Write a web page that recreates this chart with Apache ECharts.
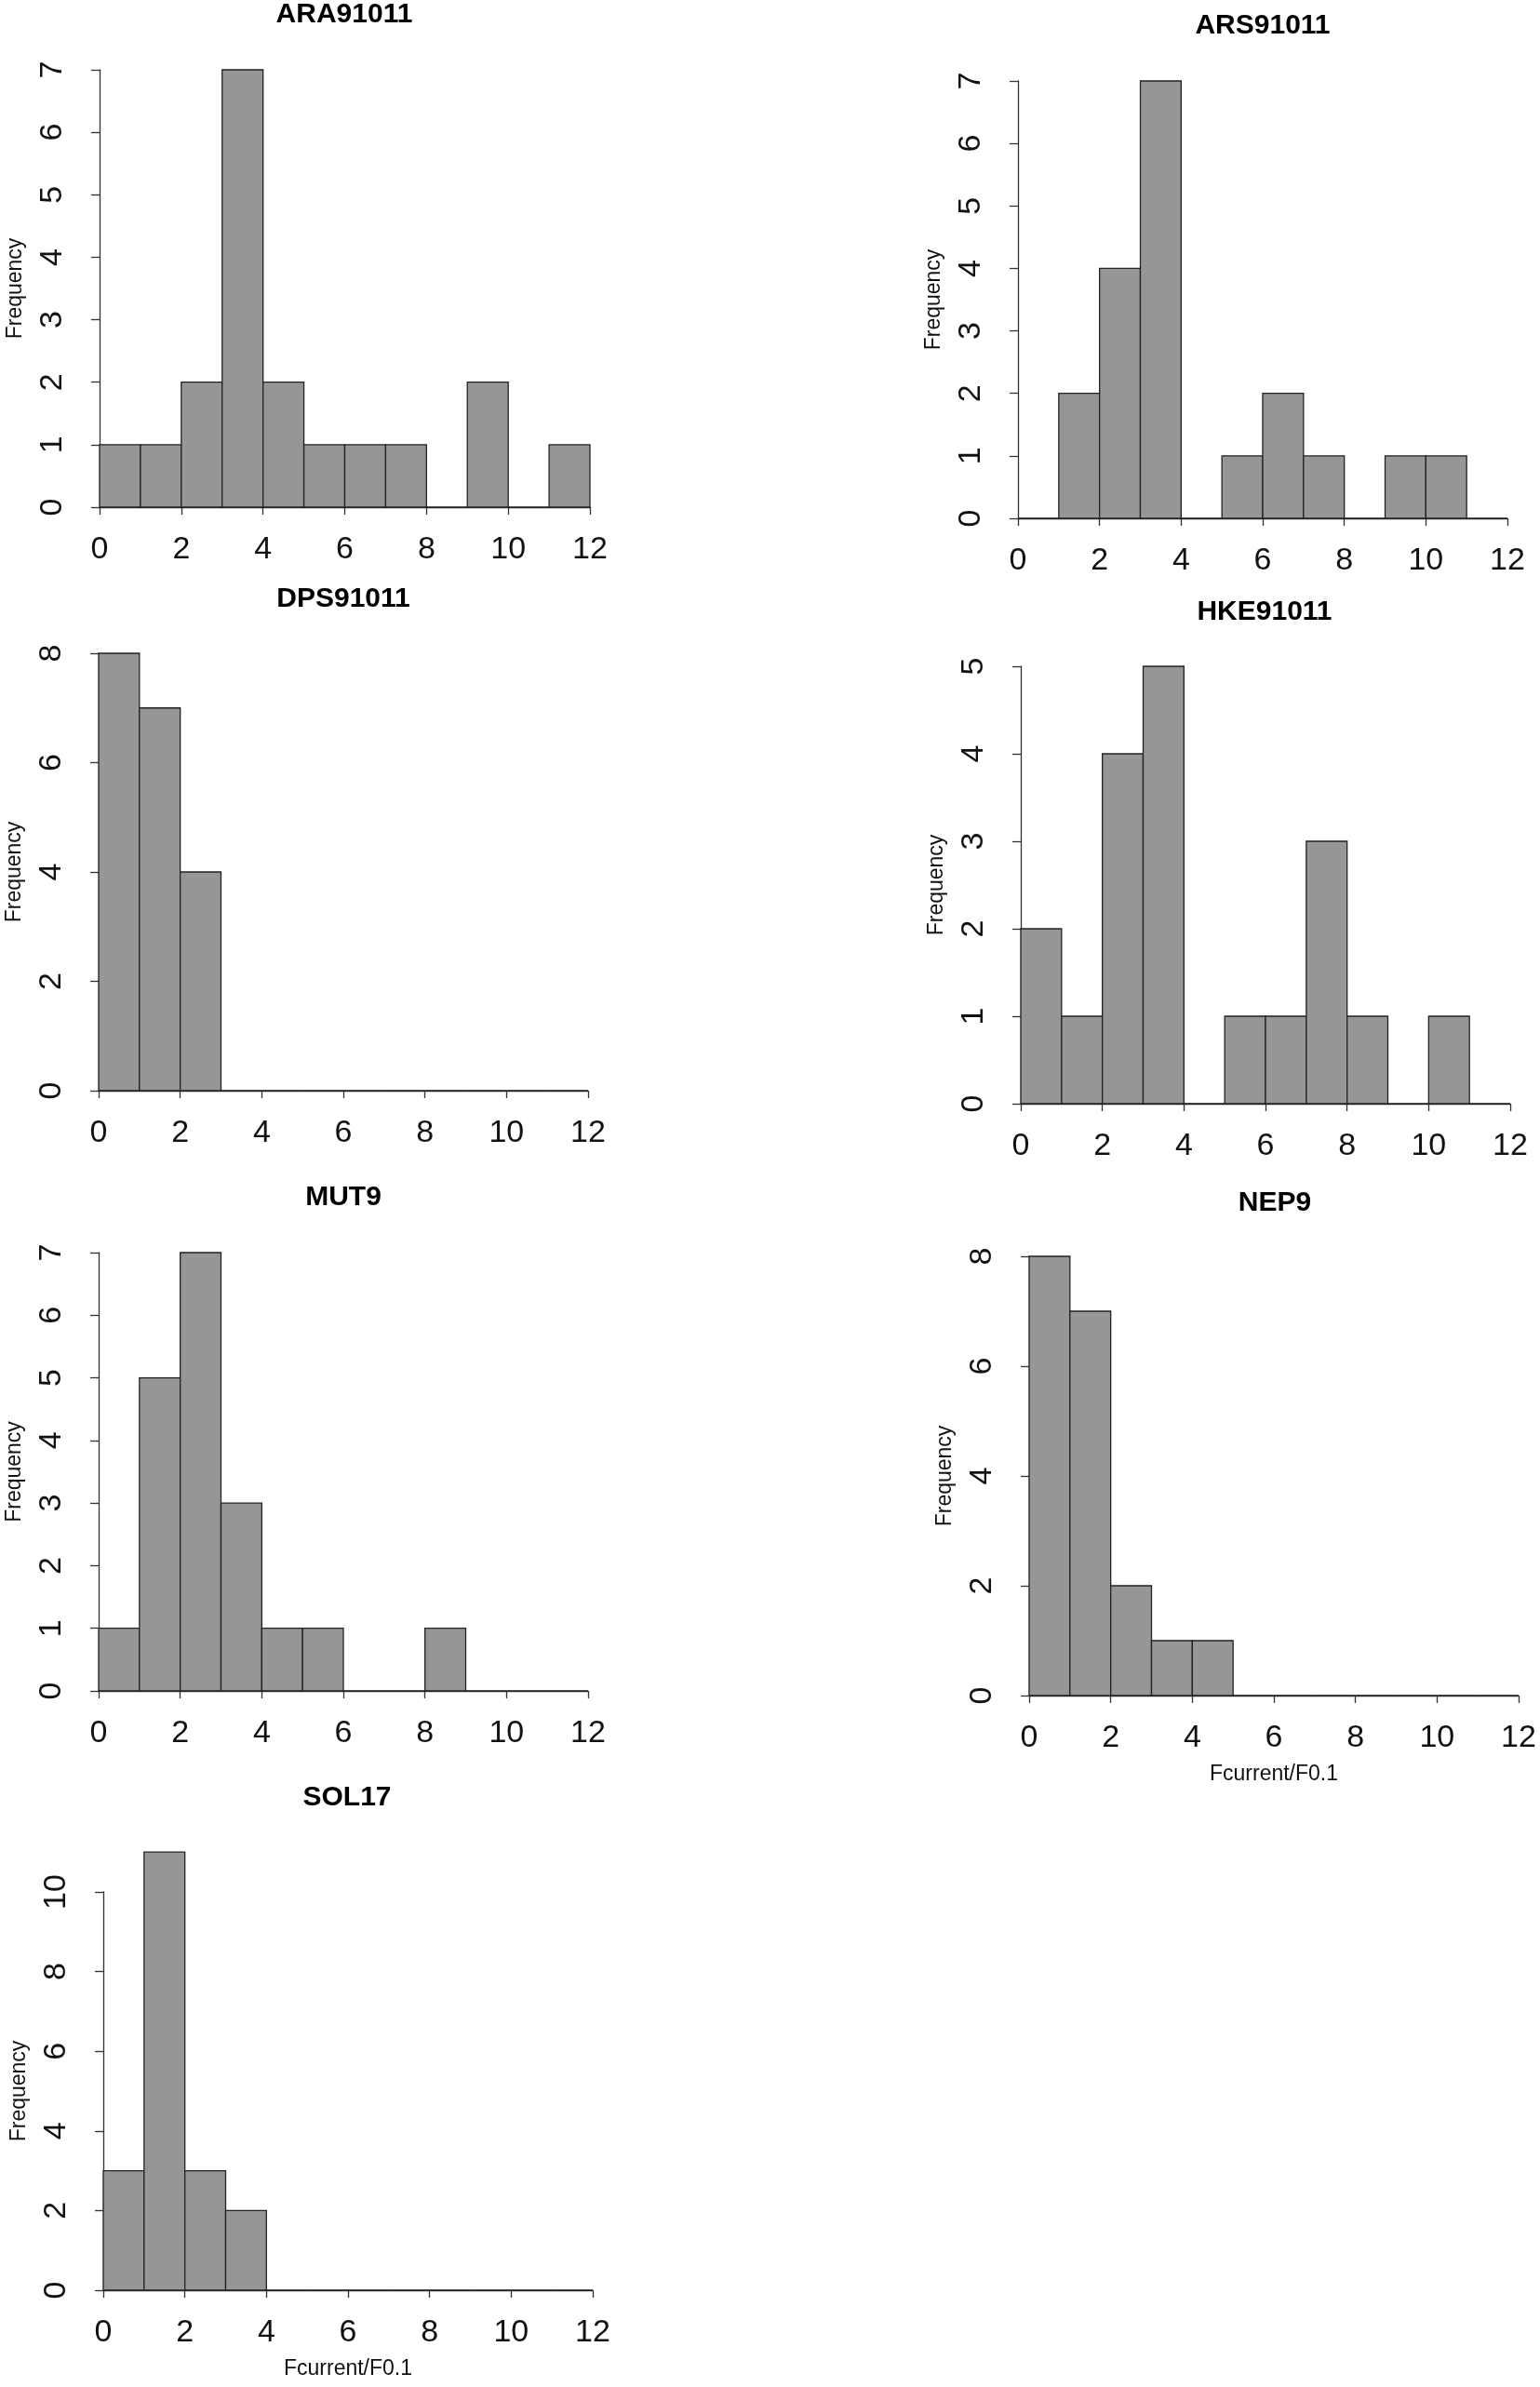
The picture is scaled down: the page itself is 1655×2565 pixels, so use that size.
<!DOCTYPE html>
<html>
<head>
<meta charset="utf-8">
<script src="https://cdn.jsdelivr.net/npm/echarts@6/dist/echarts.min.js"></script>
<style>
  html, body { margin: 0; padding: 0; background: #fff; }
  #chart { width: 1655px; height: 2565px; }
</style>
</head>
<body>
<div id="chart"></div>
<script>
// histogram breaks (Fcurrent/F0.1), same for every panel
var breaks = [0, 1, 2, 3, 4, 5, 6, 7, 8, 9, 10, 11, 12];
var xTicks = [0, 2, 4, 6, 8, 10, 12];

// counts per bin
var countsARA = [1, 1, 2, 7, 2, 1, 1, 1, 0, 2, 0, 1];
var countsARS = [0, 2, 4, 7, 0, 1, 2, 1, 0, 1, 1, 0];
var countsDPS = [8, 7, 4, 0, 0, 0, 0, 0, 0, 0, 0, 0];
var countsHKE = [2, 1, 4, 5, 0, 1, 1, 3, 1, 0, 1, 0];
var countsMUT = [1, 5, 7, 3, 1, 1, 0, 0, 1, 0, 0, 0];
var countsNEP = [8, 7, 2, 1, 1, 0, 0, 0, 0, 0, 0, 0];
var countsSOL = [3, 11, 3, 2, 0, 0, 0, 0, 0, 0, 0, 0];

var panelNames = ['ARA91011', 'ARS91011', 'DPS91011', 'HKE91011', 'MUT9', 'NEP9', 'SOL17'];
var panelCounts = [countsARA, countsARS, countsDPS, countsHKE, countsMUT, countsNEP, countsSOL];
// y axis: top tick and tick step
var yTop  = [7, 7, 8, 5, 7, 8, 10];
var yStep = [1, 1, 2, 1, 1, 2, 2];
var xLabel = ['', '', '', '', '', 'Fcurrent/F0.1', 'Fcurrent/F0.1'];

// layout of each plot region (pixels): left, top, width, height, title centre x/y
var layout = [
  {l: 107,  t: 75,   w: 527, h: 470, tx: 370,  ty: 17},
  {l: 1094, t: 87,   w: 526, h: 470, tx: 1357, ty: 29},
  {l: 106,  t: 702,  w: 526, h: 470, tx: 369,  ty: 645},
  {l: 1097, t: 716,  w: 526, h: 470, tx: 1359, ty: 659},
  {l: 106,  t: 1346, w: 526, h: 471, tx: 369,  ty: 1288},
  {l: 1106, t: 1350, w: 526, h: 472, tx: 1370, ty: 1294},
  {l: 111,  t: 2033, w: 526, h: 428, tx: 373,  ty: 1933}
];

var font = 'Liberation Sans, Helvetica, Arial, sans-serif';
var grid = [], xAxis = [], yAxis = [], series = [], title = [];

for (var i = 0; i < panelNames.length; i++) {
  var L = layout[i];
  grid.push({left: L.l, top: L.t, width: L.w, height: L.h, containLabel: false});

  title.push({
    text: panelNames[i], left: L.tx, top: L.ty - 16, textAlign: 'center', padding: 0,
    textStyle: {fontSize: 30, fontWeight: 'bold', color: '#000', fontFamily: font}
  });

  xAxis.push({
    type: 'value', gridIndex: i, min: 0, max: 12, interval: 2, offset: 19,
    name: xLabel[i], nameLocation: 'middle', nameGap: 54,
    nameTextStyle: {fontSize: 23, color: '#111', fontFamily: font},
    axisLine: {show: true, lineStyle: {color: '#333', width: 1.3}},
    axisTick: {show: true, length: 8, lineStyle: {color: '#333', width: 1.3}},
    axisLabel: {fontSize: 34, color: '#111', margin: 10, fontFamily: font,
      formatter: function (v) { return xTicks.indexOf(v) >= 0 ? String(v) : ''; }},
    splitLine: {show: false}
  });

  yAxis.push({
    type: 'value', gridIndex: i, min: 0, max: yTop[i], interval: yStep[i], offset: 21,
    name: 'Frequency', nameLocation: 'middle', nameGap: 58,
    nameTextStyle: {fontSize: 23, color: '#111', fontFamily: font},
    axisLine: {show: true, lineStyle: {color: '#333', width: 1.3}},
    axisTick: {show: true, length: 9, lineStyle: {color: '#333', width: 1.3}},
    axisLabel: {fontSize: 34, color: '#111', margin: 12, rotate: 90, fontFamily: font},
    splitLine: {show: false}
  });

  var rows = [];
  for (var b = 0; b < breaks.length - 1; b++) {
    rows.push([breaks[b], breaks[b + 1], panelCounts[i][b]]);
  }

  series.push({
    type: 'custom', xAxisIndex: i, yAxisIndex: i, clip: false, silent: true,
    data: rows,
    encode: {x: [0, 1], y: 2},
    renderItem: function (params, api) {
      var c = api.value(2);
      var p1 = api.coord([api.value(0), c]);
      var p2 = api.coord([api.value(1), 0]);
      return {
        type: 'rect',
        shape: {x: p1[0], y: p1[1], width: p2[0] - p1[0], height: p2[1] - p1[1]},
        style: {fill: c > 0 ? '#969696' : 'none', stroke: '#222', lineWidth: 1.3}
      };
    }
  });
}

var myChart = echarts.init(document.getElementById('chart'));
myChart.setOption({
  backgroundColor: '#ffffff',
  animation: false,
  title: title,
  grid: grid,
  xAxis: xAxis,
  yAxis: yAxis,
  series: series
});
</script>
</body>
</html>
